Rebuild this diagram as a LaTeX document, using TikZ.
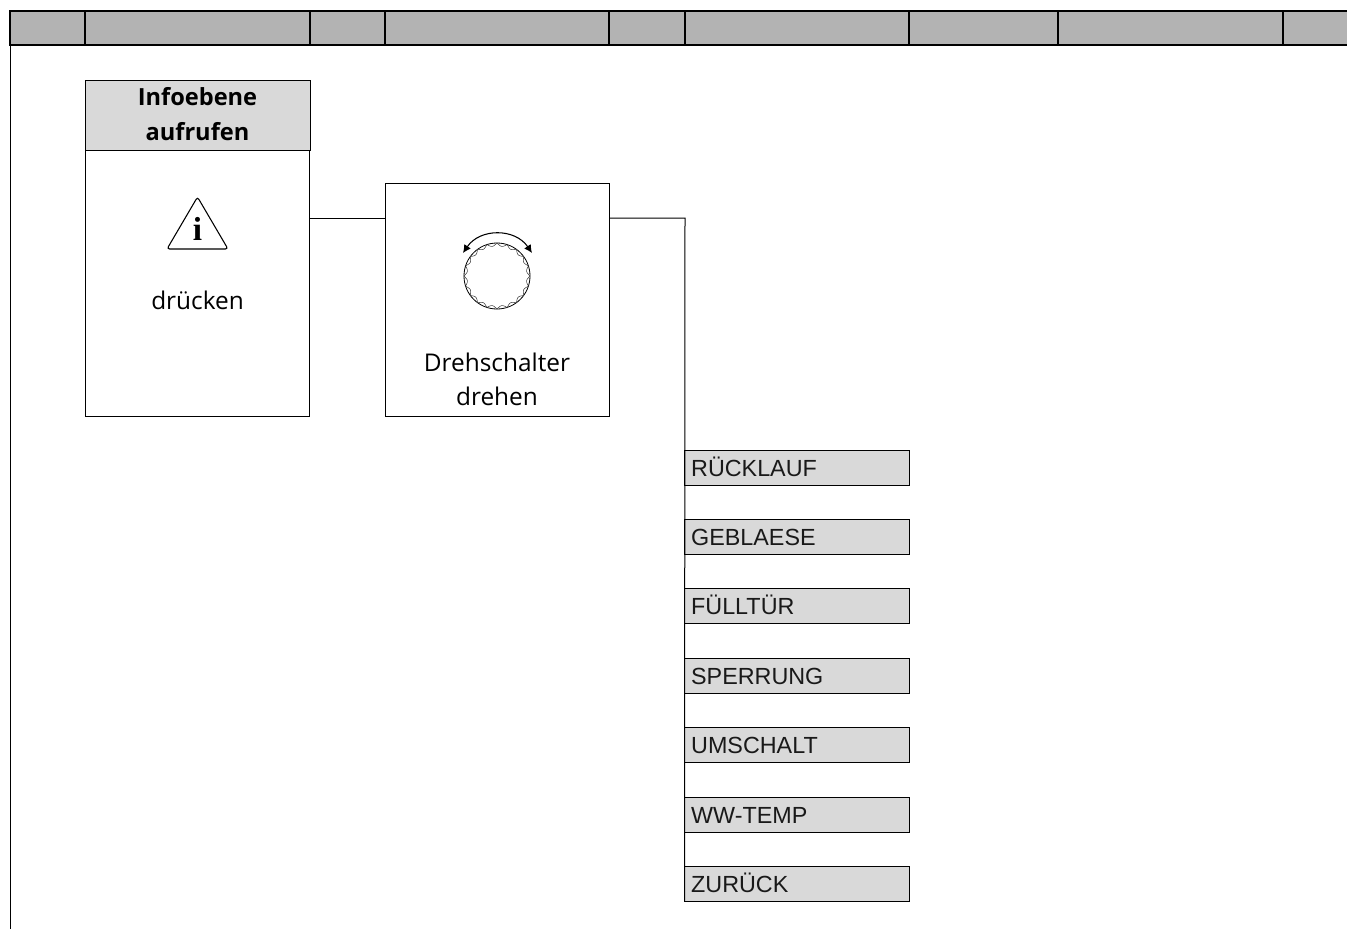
\documentclass[tikz,border=0pt]{standalone}
\usepackage{fontspec}
\setmainfont{Open Sans}
\newfontfamily\capsfont{Liberation Sans}
\newfontfamily\iconfont{Liberation Serif}
\usepackage{xcolor}
\usetikzlibrary{arrows.meta,positioning}
\definecolor{stripgray}{HTML}{B3B3B3}
\definecolor{boxgray}{HTML}{D9D9D9}

\begin{document}
\begin{tikzpicture}[
  x=0.75pt, y=-0.75pt,
  node distance=25.8pt,
  cell/.style={draw, line width=1.4pt, fill=stripgray, anchor=north west, inner sep=0pt,
    outer sep=0pt, minimum height=25.5pt},
  title/.style={draw, line width=0.75pt, fill=boxgray, anchor=north west, inner sep=0pt,
    outer sep=0pt, minimum width=168.75pt, minimum height=52.5pt},
  titletext/.style={align=center, inner sep=0pt, font=\fontsize{17.7}{26}\selectfont\bfseries},
  panel/.style={draw, line width=0.75pt, anchor=north west, inner sep=0pt, outer sep=0pt,
    minimum width=168pt},
  label/.style={align=center, inner sep=0pt, font=\fontsize{18.3}{25.5}\selectfont},
  menu/.style={draw, line width=0.75pt, fill=boxgray, inner sep=0pt, outer sep=0pt,
    minimum width=168.4pt, minimum height=26.25pt, text width=158.4pt, align=left,
    text height=12.8pt, text depth=0pt, text=black!90, font=\capsfont\fontsize{17.5}{20}\selectfont},
  wire/.style={line width=0.75pt},
  icon/.style={line width=0.8pt}
]
\useasboundingbox (0,0) rectangle (1347,929);
% top strip
\node[cell, minimum width=56.25pt] (s1) at (10,11) {};
\node[cell, minimum width=168.75pt] (s2) at (85,11) {};
\node[cell, minimum width=56.25pt] (s3) at (310,11) {};
\node[cell, minimum width=168pt] (s4) at (385,11) {};
\node[cell, minimum width=57pt] (s5) at (609,11) {};
\node[cell, minimum width=168pt] (s6) at (685,11) {};
\node[cell, minimum width=111.75pt] (s7) at (909,11) {};
\node[cell, minimum width=168.75pt] (s8) at (1058,11) {};
\node[cell, minimum width=52.5pt] (s9) at (1283,11) {};
\draw[line width=1.8pt] (s1.north west) -- (s9.north east);
\coordinate (frameend) at (10,929);
\draw[wire] (s1.south west) -- (frameend);
% first step
\node[title] (infohead) at (85,80) {};
\node[titletext] (infotext) at (197.5,114) {Infoebene\\aufrufen};
\node[panel, minimum height=199.5pt, below=0pt of infohead.south west, anchor=north west] (infobox) {};
\coordinate (iconi) at (197.5,228.5);
\node[inner sep=0pt, font=\iconfont\fontsize{25}{25}\selectfont\bfseries] (itext) at (iconi) {i};
\coordinate (tria) at (197.5,197);
\coordinate (trib) at (228,249);
\coordinate (tric) at (167,249);
\draw[icon, rounded corners=2pt] (tria) -- (trib) -- (tric) -- cycle;
\node[label] (press) at (197.5,300.5) {drücken};
% second step
\node[panel, minimum height=174.75pt] (dialbox) at (385,183) {};
\node[circle, draw, line width=0.6pt, minimum size=49.5pt, inner sep=0pt] (knob) at (497,276) {};
\draw[line width=0.4pt, black!75] plot[domain=0:360, samples=361]
  ({497+(33-3*abs(sin(10*\x)))*cos(\x)}, {276+(33-3*abs(sin(10*\x)))*sin(\x)});
\coordinate (turnl) at (463,253);
\coordinate (turnr) at (532,253);
\draw[icon, {Latex[length=6pt,width=6pt]}-{Latex[length=6pt,width=6pt]}] (turnl) .. controls (480,228) and (515,228) .. (turnr);
\node[label] (turn) at (497,379) {Drehschalter\\drehen};
% menu entries
\node[menu, anchor=north west] (m1) at (684.5,450) {RÜCKLAUF};
\node[menu, below=of m1] (m2) {GEBLAESE};
\node[menu, below=of m2] (m3) {FÜLLTÜR};
\node[menu, below=of m3] (m4) {SPERRUNG};
\node[menu, below=of m4] (m5) {UMSCHALT};
\node[menu, below=of m5] (m6) {WW-TEMP};
\node[menu, below=of m6] (m7) {ZURÜCK};
% connectors
\coordinate (branch) at (685,218);
\draw[wire] (infobox.east |- branch) -- (dialbox.west |- branch);
\draw[wire] (dialbox.east |- branch) -- (branch) -- (m7.south west);
\end{tikzpicture}
\end{document}
